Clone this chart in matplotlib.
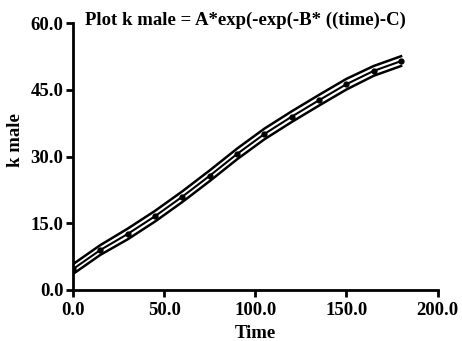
import matplotlib
matplotlib.use("Agg")
import matplotlib.pyplot as plt

time = [0, 15, 30, 45, 60, 75, 90, 105, 120, 135, 150, 165, 180]
k_male = [4.7, 9.0, 12.6, 16.6, 21.0, 25.7, 30.6, 35.1, 39.0, 42.7, 46.3, 49.3, 51.5]
upper = [5.8, 10.1, 13.8, 17.8, 22.2, 26.9, 31.8, 36.3, 40.2, 43.9, 47.5, 50.4, 52.6]
lower = [3.6, 7.9, 11.4, 15.4, 19.8, 24.5, 29.4, 33.9, 37.8, 41.5, 45.1, 48.2, 50.4]
xticks = [0, 50, 100, 150, 200]
xticklabels = ["0.0", "50.0", "100.0", "150.0", "200.0"]
yticks = [0, 15, 30, 45, 60]
yticklabels = ["0.0", "15.0", "30.0", "45.0", "60.0"]

plt.rcParams['font.family'] = ['Liberation Serif', 'DejaVu Serif']

fig = plt.figure(figsize=(4.62, 3.41), dpi=100)
ax = fig.add_axes([0.158, 0.1496, 0.789, 0.782])

ax.plot(time, upper, color='black', lw=1.8)
ax.plot(time, lower, color='black', lw=1.8)
ax.plot(time, k_male, color='black', lw=1.5, marker='o', markersize=3.5)

ax.set_xlim(0, 200)
ax.set_ylim(0, 60)
ax.set_xticks(xticks)
ax.set_xticklabels(xticklabels, fontsize=13.5, fontweight='bold')
ax.set_yticks(yticks)
ax.set_yticklabels(yticklabels, fontsize=13.5, fontweight='bold')
for s in ['top', 'right']:
    ax.spines[s].set_visible(False)
for s in ['left', 'bottom']:
    ax.spines[s].set_linewidth(2)
ax.tick_params(axis='x', direction='out', length=5, width=2, pad=4)
ax.tick_params(axis='y', direction='out', length=5, width=2, pad=2)
ax.set_xlabel("Time", fontsize=13.5, fontweight='bold', labelpad=4)
ax.set_ylabel("k male", fontsize=13.5, fontweight='bold')
ax.yaxis.set_label_coords(-0.135, 0.5625)

fig.text(0.184, 0.94, "Plot k male = A*exp(-exp(-B* ((time)-C)", fontsize=13.5,
         ha='left', va='center', fontweight='bold')

fig.savefig("out.png", dpi=100)
